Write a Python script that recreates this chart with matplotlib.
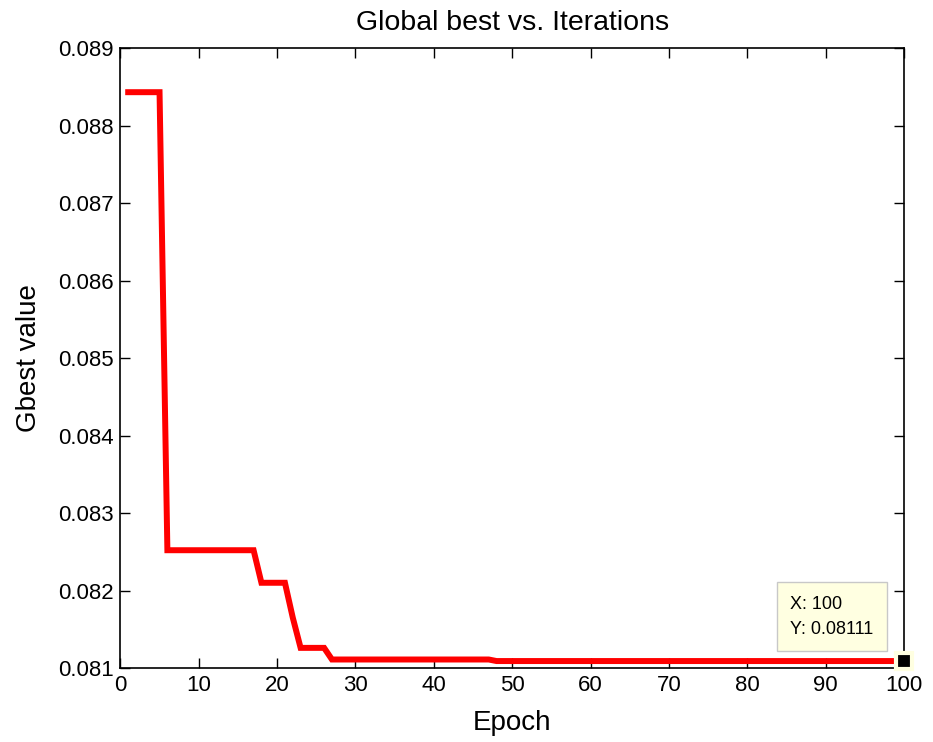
import matplotlib
matplotlib.use("Agg")
import matplotlib.pyplot as plt
import numpy as np

plt.rcParams['font.family'] = ['Liberation Sans', 'DejaVu Sans']

# Gbest value per epoch
epochs = np.arange(1, 101)
gbest = np.empty(100)
gbest[0:5] = 0.08843      # epochs 1-5
gbest[5:17] = 0.08252     # epochs 6-17
gbest[17:21] = 0.08210    # epochs 18-21
gbest[21] = 0.08165       # epoch 22
gbest[22:26] = 0.08126    # epochs 23-26
gbest[26:47] = 0.08111    # epochs 27-47
gbest[47:] = 0.08109      # epochs 48-100

tip_x = 100
tip_y = 0.08111

fig = plt.figure(figsize=(9.33, 7.42), dpi=100)
ax = fig.add_axes([0.129, 0.0997, 0.840, 0.8356])

ax.plot(epochs, gbest, color="red", lw=4.3, solid_joinstyle="miter")
ax.plot(epochs[-1], gbest[-1], marker="s", ms=12, color="black",
        mec="#ffffe1", mew=3, clip_on=False, zorder=5)
ax.text(85.5, 0.08166, f"X: {tip_x}\nY: {tip_y:.5f}", fontsize=13,
        linespacing=1.6, va="center", ha="left",
        bbox=dict(boxstyle="square,pad=0.75", fc="#ffffe1", ec="#c8c8c8", lw=1))

ax.set_xlim(0, 100)
ax.set_ylim(0.081, 0.089)
ax.set_xticks(np.arange(0, 101, 10))
ax.set_yticks(np.arange(0.081, 0.0891, 0.001))
ax.yaxis.set_major_formatter(matplotlib.ticker.FormatStrFormatter("%.3f"))
ax.tick_params(direction="in", top=True, right=True, labelsize=16, length=7, width=1, pad=5)
for s in ax.spines.values():
    s.set_linewidth(1.2)

ax.set_title("Global best vs. Iterations", fontsize=20.5, pad=13)
ax.set_xlabel("Epoch", fontsize=20, labelpad=10)
ax.set_ylabel("Gbest value", fontsize=20, labelpad=11)

fig.savefig("out.png", dpi=100)
plt.close(fig)
